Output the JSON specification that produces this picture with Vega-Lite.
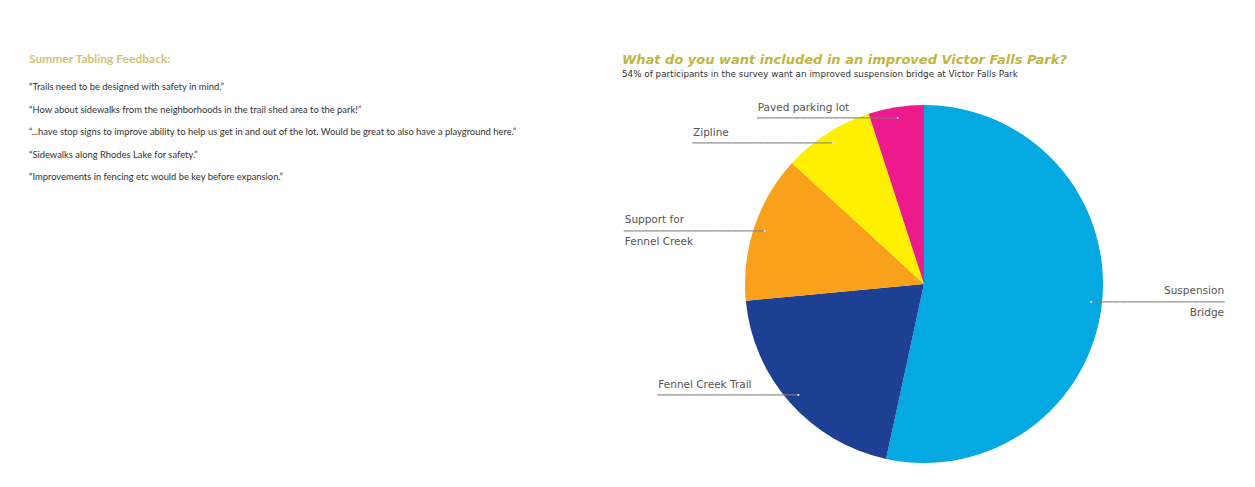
{
  "$schema": "https://vega.github.io/schema/vega-lite/v6.json",
  "background": "#ffffff",
  "padding": {"left": 29, "top": 53, "right": 0, "bottom": 0},
  "spacing": 20,
  "config": {"view": {"stroke": null}},
  "datasets": {
    "quotes": [
      {"n": 1, "quote": "“Trails need to be designed with safety in mind.”"},
      {"n": 2, "quote": "“How about sidewalks from the neighborhoods in the trail shed area to the park!”"},
      {"n": 3, "quote": "“...have stop signs to improve ability to help us get in and out of the lot. Would be great to also have a playground here.”"},
      {"n": 4, "quote": "“Sidewalks along Rhodes Lake for safety.”"},
      {"n": 5, "quote": "“Improvements in fencing etc would be key before expansion.”"}
    ],
    "survey": [
      {"category": "Suspension Bridge", "label": "Suspension\nBridge", "value": 53.4, "order": 1},
      {"category": "Fennel Creek Trail", "label": "Fennel Creek Trail", "value": 20.1, "order": 2},
      {"category": "Support for Fennel Creek", "label": "Support for\nFennel Creek", "value": 13.3, "order": 3},
      {"category": "Zipline", "label": "Zipline", "value": 8.2, "order": 4},
      {"category": "Paved parking lot", "label": "Paved parking lot", "value": 5.0, "order": 5}
    ]
  },
  "hconcat": [
    {
      "width": 573,
      "height": 90,
      "title": {
        "text": "Summer Tabling Feedback:",
        "anchor": "start",
        "font": "Lato",
        "fontSize": 12,
        "fontWeight": "bold",
        "color": "#d2c37a",
        "offset": 16
      },
      "data": {"name": "quotes"},
      "mark": {"type": "text", "align": "left", "baseline": "middle", "font": "Lato", "fontSize": 9.4, "color": "#333333"},
      "encoding": {
        "x": {"datum": 0, "type": "quantitative", "scale": {"domain": [0, 1]}, "axis": null},
        "y": {"field": "n", "type": "ordinal", "scale": {"type": "point", "padding": 0}, "axis": null},
        "text": {"field": "quote", "type": "nominal"}
      }
    },
    {
      "width": 604,
      "height": 394,
      "title": {
        "text": "What do you want included in an improved Victor Falls Park?",
        "subtitle": "54% of participants in the survey want an improved suspension bridge at Victor Falls Park",
        "anchor": "start",
        "font": "DejaVu Sans",
        "fontSize": 13,
        "fontStyle": "italic",
        "fontWeight": "bold",
        "color": "#c1b443",
        "subtitleFont": "DejaVu Sans",
        "subtitleFontSize": 8.8,
        "subtitleColor": "#333333",
        "subtitlePadding": 3,
        "offset": 8
      },
      "data": {"name": "survey"},
      "encoding": {
        "theta": {"field": "value", "type": "quantitative", "stack": true},
        "order": {"field": "order", "type": "quantitative"}
      },
      "layer": [
        {
          "mark": {"type": "arc", "outerRadius": 179},
          "encoding": {
            "color": {
              "field": "category",
              "type": "nominal",
              "scale": {
                "domain": ["Suspension Bridge", "Fennel Creek Trail", "Support for Fennel Creek", "Zipline", "Paved parking lot"],
                "range": ["#05a9e1", "#1d4094", "#f9a11a", "#fff000", "#ec1a8c"]
              },
              "legend": null
            }
          }
        },
        {
          "mark": {"type": "text", "radius": 168, "align": "right", "baseline": "middle", "font": "DejaVu Sans", "fontSize": 6, "color": "#7f7f7f"},
          "encoding": {
            "text": {"condition": {"test": "datum.category !== 'Suspension Bridge'", "value": "━━━━━━━━━━━━━━━━━━━━━━━━━━━━━━━━━━━━━━━"}, "value": ""}
          }
        },
        {
          "mark": {"type": "text", "radius": 168, "align": "left", "baseline": "middle", "font": "DejaVu Sans", "fontSize": 6, "color": "#7f7f7f"},
          "encoding": {
            "text": {"condition": {"test": "datum.category === 'Suspension Bridge'", "value": "━━━━━━━━━━━━━━━━━━━━━━━━━━━━━━━━━━━━━"}, "value": ""}
          }
        },
        {
          "mark": {"type": "text", "radius": 168, "align": "center", "baseline": "middle", "font": "DejaVu Sans", "fontSize": 6, "color": "#ffffff", "text": "•"}
        },
        {
          "mark": {"type": "text", "radius": 168, "align": "left", "baseline": "bottom", "dx": -140, "dy": -5, "font": "DejaVu Sans", "fontSize": 10.5, "color": "#555555"},
          "encoding": {
            "text": {"condition": {"test": "indexof(['Fennel Creek Trail', 'Zipline', 'Paved parking lot'], datum.category) >= 0", "field": "label"}, "value": ""}
          }
        },
        {
          "mark": {"type": "text", "radius": 168, "align": "left", "baseline": "middle", "dx": -140, "dy": -11, "font": "DejaVu Sans", "fontSize": 10.5, "color": "#555555", "lineBreak": "\n", "lineHeight": 22},
          "encoding": {
            "text": {"condition": {"test": "datum.category === 'Support for Fennel Creek'", "field": "label"}, "value": ""}
          }
        },
        {
          "mark": {"type": "text", "radius": 168, "align": "right", "baseline": "middle", "dx": 133, "dy": -11, "font": "DejaVu Sans", "fontSize": 10.5, "color": "#555555", "lineBreak": "\n", "lineHeight": 22},
          "encoding": {
            "text": {"condition": {"test": "datum.category === 'Suspension Bridge'", "field": "label"}, "value": ""}
          }
        }
      ]
    }
  ]
}
